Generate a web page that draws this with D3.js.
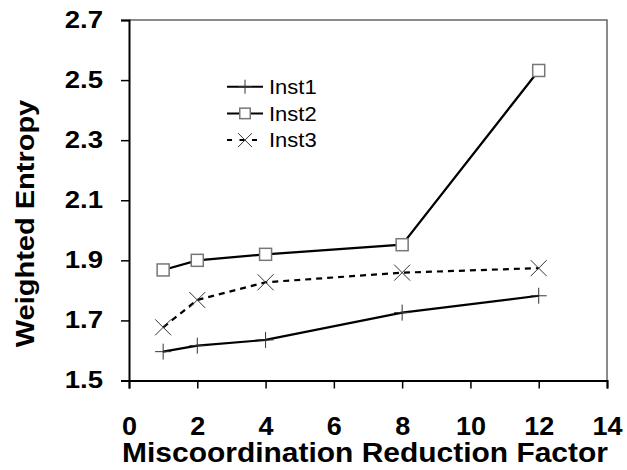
<!DOCTYPE html>
<html>
<head>
<meta charset="utf-8">
<script src="https://cdn.jsdelivr.net/npm/d3@7"></script>
<style>
  body { margin: 0; background: #fff; }
  svg text { font-family: "Liberation Sans", Arial, sans-serif; }
</style>
</head>
<body>
<svg width="627" height="470"></svg>
<script>
// DATA
var xValues = [1, 2, 4, 8, 12];
var inst1 = [1.596, 1.616, 1.635, 1.726, 1.782];
var inst2 = [1.868, 1.900, 1.920, 1.952, 2.532];
var inst3 = [1.677, 1.768, 1.827, 1.859, 1.874];
var seriesNames = ["Inst1", "Inst2", "Inst3"];
var xTicks = [0, 2, 4, 6, 8, 10, 12, 14];
var yTicks = [1.5, 1.7, 1.9, 2.1, 2.3, 2.5, 2.7];

var svg = d3.select("svg");

var x = d3.scaleLinear().domain([0, 14]).range([129, 607]);
var y = d3.scaleLinear().domain([1.5, 2.7]).range([380.5, 20]);

// the text in the picture is a bit wider than plain Arial, so stretch it
function stretch(sel, sx) {
  sel.each(function() {
    var t = d3.select(this);
    var ox = +t.attr("x") || 0;
    t.attr("x", ox / sx).attr("transform", "scale(" + sx + ",1)");
  });
}

// plot frame (top and right)
svg.append("path")
    .attr("d", "M" + x(0) + "," + y(2.7) + "H" + x(14) + "V" + y(1.5))
    .attr("fill", "none").attr("stroke", "#666").attr("stroke-width", 1.5);

// axes
var yAxis = svg.append("g")
    .attr("transform", "translate(" + x(0) + ",0)")
    .call(d3.axisLeft(y).tickValues(yTicks).tickFormat(d3.format(".1f")).tickSize(8).tickPadding(18));
var xAxis = svg.append("g")
    .attr("transform", "translate(0," + y(1.5) + ")")
    .call(d3.axisBottom(x).tickValues(xTicks).tickSize(8).tickPadding(0));

[xAxis, yAxis].forEach(function(a) {
  a.select(".domain").attr("stroke", "#000").attr("stroke-width", 2);
  a.selectAll(".tick line").attr("stroke", "#000").attr("stroke-width", 1.5);
  a.selectAll(".tick text")
      .attr("fill", "#000")
      .attr("font-weight", "bold");
});
yAxis.selectAll(".tick text").attr("font-size", "24px").attr("dy", "7px");
stretch(yAxis.selectAll(".tick text"), 1.15);
xAxis.selectAll(".tick text").attr("font-size", "25px").attr("y", 54.5).attr("dy", null);
stretch(xAxis.selectAll(".tick text"), 1.08);

// axis titles
svg.append("g")
    .attr("transform", "translate(34,223.5) rotate(-90)")
  .append("text")
    .attr("text-anchor", "middle")
    .attr("font-size", "25px").attr("font-weight", "bold")
    .text("Weighted Entropy")
    .call(stretch, 1.16);
svg.append("g")
    .attr("transform", "translate(365,461.5)")
  .append("text")
    .attr("text-anchor", "middle")
    .attr("font-size", "28px").attr("font-weight", "bold")
    .text("Miscoordination Reduction Factor")
    .call(stretch, 1.07);

// markers
function plus(g, r) {
  g.append("path").attr("d", "M" + (-r) + ",0H" + r + "M0," + (-r) + "V" + r)
      .attr("stroke", "#333").attr("stroke-width", 1).attr("fill", "none");
}
function square(g, r) {
  var h = r * 0.75;
  g.append("rect").attr("x", -h).attr("y", -h).attr("width", 2 * h).attr("height", 2 * h)
      .attr("fill", "#fff").attr("stroke", "#777").attr("stroke-width", 1.5);
}
function cross(g, r) {
  g.append("path").attr("d", "M" + (-r) + "," + (-r) + "L" + r + "," + r + "M" + (-r) + "," + r + "L" + r + "," + (-r))
      .attr("stroke", "#333").attr("stroke-width", 1).attr("fill", "none");
}

var series = [
  { name: seriesNames[0], values: inst1, dash: null, marker: plus },
  { name: seriesNames[1], values: inst2, dash: null, marker: square },
  { name: seriesNames[2], values: inst3, dash: "6,5", marker: cross }
];

var line = d3.line()
    .x(function(d) { return x(d[0]); })
    .y(function(d) { return y(d[1]); });

series.forEach(function(s) {
  var pts = xValues.map(function(v, i) { return [v, s.values[i]]; });
  svg.append("path")
      .attr("d", line(pts))
      .attr("fill", "none")
      .attr("stroke", "#000")
      .attr("stroke-width", 2.2)
      .attr("stroke-dasharray", s.dash);
  pts.forEach(function(p) {
    var g = svg.append("g").attr("transform", "translate(" + x(p[0]) + "," + y(p[1]) + ")");
    s.marker(g, 8);
  });
});

// legend
var legend = svg.append("g").attr("transform", "translate(227,86.7)");
series.forEach(function(s, i) {
  var row = legend.append("g").attr("transform", "translate(0," + (i * 26.7) + ")");
  row.append("line")
      .attr("x1", 0).attr("x2", 36).attr("y1", 0).attr("y2", 0)
      .attr("stroke", "#000").attr("stroke-width", 2)
      .attr("stroke-dasharray", s.dash ? "5,7.5" : null);
  var m = row.append("g").attr("transform", "translate(18,0)");
  s.marker(m, 7);
  row.append("g").attr("transform", "translate(42,0)")
    .append("text")
      .attr("dy", "0.36em")
      .attr("font-size", "20px")
      .text(s.name)
      .call(stretch, 1.1);
});
</script>
</body>
</html>
